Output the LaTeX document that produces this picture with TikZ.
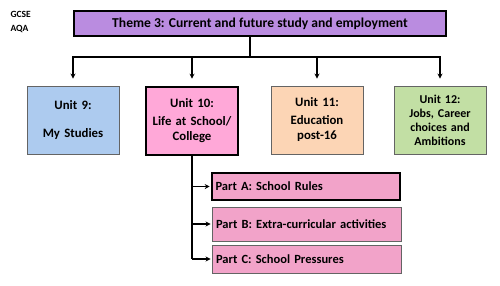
\documentclass[tikz,border=0pt]{standalone}
\usepackage{fontspec}
\setmainfont{Carlito}[BoldFont={Carlito Bold}]
\usetikzlibrary{arrows.meta}

\definecolor{themepurple}{RGB}{186,140,224}
\definecolor{unitblue}{RGB}{173,203,239}
\definecolor{unitpink}{RGB}{255,168,216}
\definecolor{unitpeach}{RGB}{252,213,181}
\definecolor{unitgreen}{RGB}{194,223,164}
\definecolor{partpink}{RGB}{242,163,201}
\definecolor{thinedge}{RGB}{100,100,100}

\begin{document}
\begin{tikzpicture}[x=1pt, y=-1pt,
    box/.style={draw=thinedge, line width=0.9pt, align=center, inner sep=2pt,
      font=\fontsize{12.8}{15.5}\selectfont\bfseries},
    heavyedge/.style={draw=black, line width=2.6pt},
    unitbox/.style={box, minimum width=92pt, minimum height=68pt, text width=88pt},
    partbox/.style={box, fill=partpink, minimum width=189pt, text width=181pt, align=left,
      font=\fontsize{12.5}{15}\selectfont\bfseries},
    link/.style={line width=1.4pt, -{Stealth[length=5pt,width=5pt]}}]

  \useasboundingbox (0,0) rectangle (500,285);

  % ---- (1) header ----
  \node[font=\fontsize{9.5}{14}\selectfont\bfseries, align=left, anchor=north west]
    (exam) at (7,8) {GCSE\\AQA};
  \node[box, heavyedge, fill=themepurple, minimum width=372pt, minimum height=25pt,
    font=\fontsize{13.6}{15}\selectfont\bfseries]
    (theme) at (260,23.5) {Theme 3: Current and future study and employment};

  % ---- (2) the four units ----
  \node[unitbox, fill=unitblue] (unit9) at (73,120)
    {Unit 9:\\[13pt]My Studies};
  \node[unitbox, heavyedge, fill=unitpink] (unit10) at (192,121)
    {Unit 10:\\[2pt]Life at School/\\College};
  \node[unitbox, fill=unitpeach] (unit11) at (317,120)
    {Unit 11:\\[2pt]Education\\post-16};
  \node[unitbox, fill=unitgreen, font=\fontsize{12}{14}\selectfont\bfseries]
    (unit12) at (440,120) {Unit 12:\\Jobs, Career\\choices and\\Ambitions};

  % ---- (3) parts of unit 10 ----
  \node[partbox, heavyedge, minimum height=27pt, minimum width=188pt] (partA) at (306,186.5)
    {Part A: School Rules};
  \node[partbox, minimum height=34pt] (partB) at (306.5,224)
    {Part B: Extra-curricular activities};
  \node[partbox, minimum height=28pt] (partC) at (306.5,259)
    {Part C: School Pressures};

  % ---- (4) connectors ----
  \coordinate (hub) at (250,57);
  \draw[line width=1.4pt] (theme.south -| hub) -- (hub);
  \foreach \u in {unit9,unit10,unit11,unit12}
    \draw[link, shorten >=7pt] (hub) -| (\u.north);

  \draw[line width=2pt] (unit10.south) -- (unit10.south |- partC.west);
  \foreach \p in {partA,partB,partC}
    \draw[link, shorten >=1pt] (unit10.south |- \p.west) -- (\p.west);

\end{tikzpicture}
\end{document}
